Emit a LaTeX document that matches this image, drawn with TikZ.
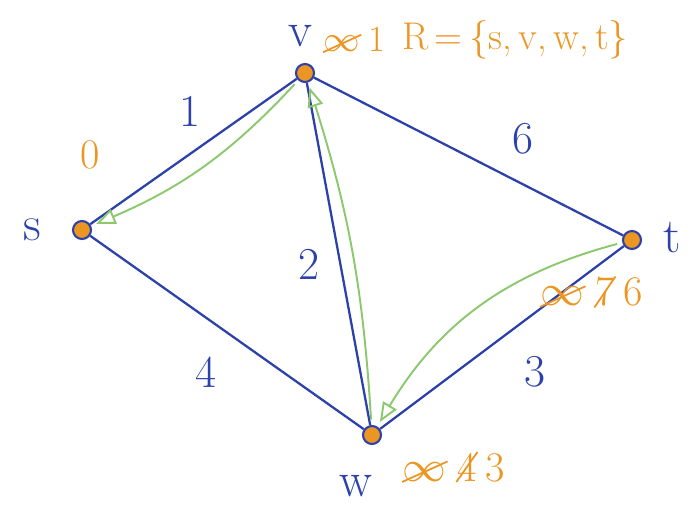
\documentclass[tikz,border=0pt]{standalone}
\usepackage{amsmath}
\usepackage{tikz}
\usetikzlibrary{positioning,shapes.misc,arrows.meta,calc}
\definecolor{penblue}{RGB}{45, 65, 170}
\definecolor{penorange}{RGB}{235, 150, 35}
\definecolor{pengreen}{RGB}{140, 200, 110}
\newcommand{\crossed}[1]{\tikz[baseline=(c.base)]\node[strike out,draw=penorange,inner sep=0pt,line width=1pt] (c) {#1};}

\begin{document}
\begin{tikzpicture}[x=0.02cm, y=-0.02cm]
\tikzset{
  vert/.style={circle, draw=penblue, fill=penorange, line width=1.2pt, minimum size=0.36cm, inner sep=0pt},
  edge/.style={draw=penblue, line width=1.3pt},
  vname/.style={text=penblue, font=\fontsize{28}{32}\selectfont},
  wt/.style={text=penblue, font=\fontsize{26}{30}\selectfont},
  dist/.style={text=penorange, font=\fontsize{24}{28}\selectfont},
  pred/.style={-{Triangle[open,length=11pt,width=9pt]}, draw=pengreen, line width=1.1pt, shorten >=3pt, shorten <=3pt}
}
\useasboundingbox (0,0) rectangle (700,507);
% vertices
\node[vert] (s) at (82,230)  {};
\node[vert] (v) at (305,73)  {};
\node[vert] (t) at (632,240) {};
\node[vert] (w) at (372,435) {};
% vertex names
\node[vname] (sl) at (32,230)  {s};
\node[vname] (vl) at (300,36)  {v};
\node[vname] (tl) at (672,238) {t};
\node[vname] (wl) at (356,486) {w};
% edges
\draw[edge] (s) -- node[wt, above left=6pt and -2pt, pos=0.55] (e1) {1} (v);
\draw[edge] (v) -- node[wt, above right=8pt and 0pt, pos=0.62] (e6) {6} (t);
\draw[edge] (v) -- node[wt, left=8pt, pos=0.53] (e2) {2} (w);
\draw[edge] (s) -- node[wt, below left=10pt and 2pt, pos=0.5] (e4) {4} (w);
\draw[edge] (w) -- node[wt, below right=12pt and 2pt, pos=0.55] (e3) {3} (t);
% predecessor arrows
\draw[pred] (v) to[bend left=12] (s);
\draw[pred] (t) to[bend right=22] (w);
\draw[pred] (w) to[bend right=7] (v);
% distances
\node[dist] (ds) at (90,155) {0};
\node[dist, anchor=west, font=\fontsize{21}{25}\selectfont] (dv) at (316,40) {\crossed{$\infty$}\,1};
\node[dist, anchor=west, font=\fontsize{22}{26}\selectfont] (rs) at (396,40) {R\,=\,\{s,\,v,\,w,\,t\}};
\node[dist, anchor=west] (dt) at (533,292) {\crossed{$\infty$}\,\crossed{7}\,6};
\node[dist, anchor=west] (dw) at (395,467) {\crossed{$\infty$}\,\crossed{4}\,3};
\end{tikzpicture}
\end{document}
